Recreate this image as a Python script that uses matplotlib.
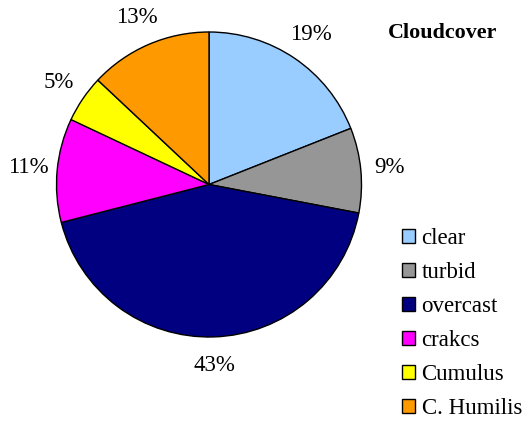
import matplotlib.pyplot as plt

plt.rcParams['font.family'] = ['Liberation Serif', 'DejaVu Serif']

categories = ['clear', 'turbid', 'overcast', 'crakcs', 'Cumulus', 'C. Humilis']
shares = [19, 9, 43, 11, 5, 13]
colors = ['#99CCFF', '#969696', '#000080', '#FF00FF', '#FFFF00', '#FF9900']

fig = plt.figure(figsize=(5.27, 4.29), dpi=100)
ax = fig.add_axes([0.0, 0.0, 1.0, 1.0])

wedges, texts, pcts = ax.pie(
    shares, colors=colors, startangle=90, counterclock=False,
    autopct='%d%%', pctdistance=1.19,
    wedgeprops=dict(edgecolor='black', linewidth=1.0),
    radius=1.0, center=(0, 0))
for t in pcts:
    t.set_fontsize(16.5)

ax.set_aspect('equal')
# pie sits on the left, legend gets the right-hand strip
cx, cy, r = 209, 429 - 184.5, 152.5
ax.set_xlim(-cx / r, (527 - cx) / r)
ax.set_ylim(-cy / r, (429 - cy) / r)
ax.axis('off')

fig.text(443 / 527, 1 - 33 / 429, 'Cloudcover', fontsize=15.8, fontweight='bold',
         ha='center', va='center')

leg = fig.legend(wedges, categories, loc='upper left',
                 bbox_to_anchor=(386 / 527, 1 - 212 / 429),
                 frameon=False, fontsize=16.5, handlelength=0.55,
                 handleheight=0.55, handletextpad=0.3, labelspacing=0.57,
                 borderpad=0.2)

fig.savefig('out.png', dpi=100)
